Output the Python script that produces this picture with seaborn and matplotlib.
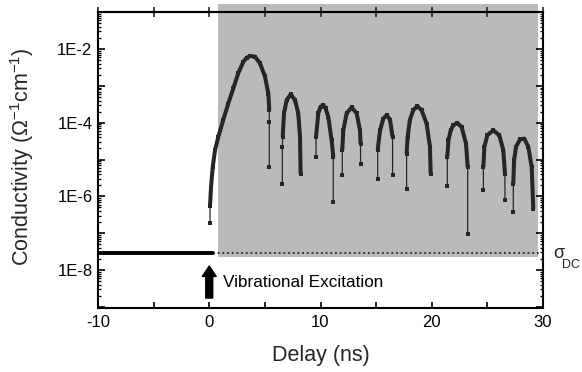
import numpy as np
import pandas as pd
import matplotlib
matplotlib.use("Agg")
import matplotlib.pyplot as plt
import seaborn as sns
from matplotlib.ticker import FixedLocator, FixedFormatter, NullFormatter
from matplotlib.patches import Rectangle

# ---- data (delay in ns, conductivity in 1/(Ohm cm)) ----
arch_delay = [
    [0.07, 0.07, 0.16, 0.31, 0.52, 0.81, 1.26, 1.71, 2.16, 2.61, 3.06, 3.37, 3.66, 4.11, 4.56, 5.01, 5.31, 5.40, 5.40, 5.40],
    [6.57, 6.57, 6.60, 6.72, 6.96, 7.32, 7.71, 8.00, 8.16, 8.21],
    [9.60, 9.60, 9.80, 10.00, 10.25, 10.45, 10.70, 11.00, 11.15, 11.15],
    [11.96, 11.96, 12.05, 12.35, 12.80, 13.25, 13.55, 13.60, 13.60],
    [15.14, 15.14, 15.35, 15.65, 15.95, 16.25, 16.48, 16.48],
    [17.74, 17.74, 17.83, 18.04, 18.34, 18.70, 19.09, 19.54, 19.84, 19.90],
    [21.40, 21.40, 21.50, 21.70, 21.94, 22.30, 22.69, 23.08, 23.23, 23.23],
    [24.64, 24.64, 24.73, 25.00, 25.53, 26.07, 26.43, 26.58, 26.58],
    [27.33, 27.33, 27.40, 27.57, 27.93, 28.32, 28.68, 28.98, 29.13],
]
arch_cond = [
    [1.9e-7, 5.6e-7, 1.8e-6, 6.2e-6, 1.8e-5, 4.1e-5, 1.2e-4, 3.3e-4, 8.5e-4, 2.2e-3, 4.5e-3, 5.8e-3, 6.5e-3, 6.2e-3, 4.1e-3, 1.8e-3, 6.2e-4, 2.2e-4, 1.05e-4, 6.2e-6],
    [2.2e-6, 2.2e-5, 4.1e-5, 1.8e-4, 4.1e-4, 5.9e-4, 4.1e-4, 1.8e-4, 4.1e-5, 4.1e-6],
    [1.2e-5, 4.1e-5, 1.8e-4, 2.7e-4, 3.0e-4, 2.5e-4, 1.45e-4, 3.3e-5, 1.2e-5, 6.9e-7],
    [3.7e-6, 1.8e-5, 6.2e-5, 1.8e-4, 2.6e-4, 1.8e-4, 6.2e-5, 2.7e-5, 7.8e-6],
    [3.0e-6, 1.8e-5, 6.2e-5, 1.3e-4, 1.6e-4, 1.2e-4, 4.1e-5, 3.7e-6],
    [1.6e-6, 1.45e-5, 4.1e-5, 1.2e-4, 2.2e-4, 2.8e-4, 2.2e-4, 9.3e-5, 2.2e-5, 4.1e-6],
    [1.95e-6, 1.2e-5, 3.3e-5, 6.2e-5, 8.5e-5, 9.8e-5, 7.6e-5, 2.7e-5, 6.2e-6, 9.5e-8],
    [1.5e-6, 6.2e-6, 2.2e-5, 4.6e-5, 6.2e-5, 4.6e-5, 1.8e-5, 4.1e-6, 7.8e-7],
    [3.7e-7, 2.2e-6, 9.5e-6, 2.2e-5, 3.5e-5, 3.7e-5, 2.2e-5, 6.2e-6, 4.6e-7],
]
pre_delay = [-10.0, 0.35]          # before excitation, conductivity = sigma_DC
sigma_dc = 2.9e-8
dc_ref_delay = [0.35, 29.6]        # dotted sigma_DC reference
shade_delay = [0.8, 29.55]
shade_floor = 2.2e-8
excitation_delay = 0.0

xtick_values = [-10, 0, 10, 20, 30]
xtick_labels = ["-10", "0", "10", "20", "30"]
xminor_values = [-5, 5, 15, 25]
ytick_values = [1e-2, 1e-4, 1e-6, 1e-8]
ytick_labels = ["1E-2", "1E-4", "1E-6", "1E-8"]

# ---- styling ----
sns.set_style("ticks")
plt.rcParams["font.family"] = ["Liberation Sans", "DejaVu Sans"]
plt.rcParams["mathtext.fontset"] = "custom"
plt.rcParams["mathtext.rm"] = "Liberation Sans"
plt.rcParams["mathtext.it"] = "Liberation Sans:italic"
plt.rcParams["mathtext.bf"] = "Liberation Sans:bold"

ink = "#262626"
fig = plt.figure(figsize=(5.82, 3.72), dpi=100)
ax = fig.add_axes([98 / 582, 1 - 308 / 372, 445 / 582, 296 / 372])
ax.set_yscale("log")
ax.set_xlim(-10, 30)
ax.set_ylim(10 ** -9.03, 10 ** -0.995)

# shaded post-excitation region (slightly overhanging the top of the frame)
ax.add_patch(Rectangle((shade_delay[0], shade_floor), shade_delay[1] - shade_delay[0],
                       10 ** -0.78 - shade_floor, facecolor="#bababa", edgecolor="none",
                       zorder=0, clip_on=False))

# data tables
rows, core_rows = [], []
for i, (d, c) in enumerate(zip(arch_delay, arch_cond)):
    lo = 0
    while lo + 1 < len(d) and abs(d[lo + 1] - d[lo]) < 0.04:
        lo += 1
    hi = len(d) - 1
    while hi - 1 >= 0 and abs(d[hi] - d[hi - 1]) < 0.04:
        hi -= 1
    for j, (x, y) in enumerate(zip(d, c)):
        rows.append(dict(arch=i, delay=x, cond=y))
        if lo <= j <= hi:
            core_rows.append(dict(arch=i, delay=x, cond=y))
df = pd.DataFrame(rows)
core = pd.DataFrame(core_rows)
pre = pd.DataFrame(dict(delay=pre_delay, cond=[sigma_dc] * len(pre_delay)))
dcref = pd.DataFrame(dict(delay=dc_ref_delay, cond=[sigma_dc] * len(dc_ref_delay)))

sns.lineplot(data=dcref, x="delay", y="cond", ax=ax, color=ink, lw=1.3,
             linestyle=(0, (1, 1.6)), zorder=2)
sns.lineplot(data=pre, x="delay", y="cond", ax=ax, color="black", lw=2.8, zorder=3)
sns.lineplot(data=df, x="delay", y="cond", units="arch", estimator=None, sort=False,
             ax=ax, color=ink, lw=0.9, marker="s", markersize=3.2, markeredgewidth=0,
             zorder=3)
sns.lineplot(data=core, x="delay", y="cond", units="arch", estimator=None, sort=False,
             ax=ax, color=ink, lw=2.9, zorder=4, solid_capstyle="butt",
             solid_joinstyle="round")

# excitation arrow + label
ax.annotate("", xy=(excitation_delay, 10 ** -7.89), xytext=(excitation_delay, 10 ** -8.76),
            arrowprops=dict(arrowstyle="simple,head_width=1.0,head_length=0.75,tail_width=0.5",
                            mutation_scale=10, color="black", shrinkA=0, shrinkB=0),
            zorder=5)
ax.text(1.2, 10 ** -8.33, "Vibrational Excitation", fontsize=12.3, va="center",
        ha="left", color="black")

# sigma_DC label
ax.text(30.95, 10 ** -7.56, "σ", fontsize=13, va="center", ha="left", clip_on=False)
ax.text(31.75, 10 ** -7.86, "DC", fontsize=9, va="center", ha="left", clip_on=False)

# axes, ticks
ax.set_xticks(xtick_values)
ax.set_xticklabels(xtick_labels)
ax.xaxis.set_minor_locator(FixedLocator(xminor_values))
ax.yaxis.set_major_locator(FixedLocator([10.0 ** k for k in range(-9, 0)]))
ax.yaxis.set_major_formatter(FixedFormatter(
    [ytick_labels[ytick_values.index(10.0 ** k)] if 10.0 ** k in ytick_values else ""
     for k in range(-9, 0)]))
ax.yaxis.set_minor_locator(FixedLocator(
    [m * 10.0 ** k for k in range(-10, 0) for m in range(2, 10)]))
ax.yaxis.set_minor_formatter(NullFormatter())

ax.tick_params(axis="both", which="both", direction="in", color="black",
               labelsize=12, labelcolor="black")
ax.tick_params(axis="x", which="both", length=4, width=1.2, top=False, pad=5)
ax.tick_params(axis="y", which="major", length=5, width=1.2, right=True, pad=4)
ax.tick_params(axis="y", which="minor", length=2.5, width=0.9, right=True)
for s in ax.spines.values():
    s.set_linewidth(1.5)
    s.set_color("black")

top = ax.secondary_xaxis("top")
top.set_xticks(sorted(xtick_values + xminor_values))
top.tick_params(axis="x", direction="inout", length=7, width=1.2, labeltop=False)
top.spines["top"].set_linewidth(1.5)

ax.set_xlabel("Delay (ns)", fontsize=15.5)
ax.set_ylabel("Conductivity (Ω$^{-1}$cm$^{-1}$)", fontsize=15.5)
ax.xaxis.set_label_coords(0.501, -0.125)
ax.yaxis.set_label_coords(-0.139, 0.512)

fig.savefig("out.png", dpi=100)
